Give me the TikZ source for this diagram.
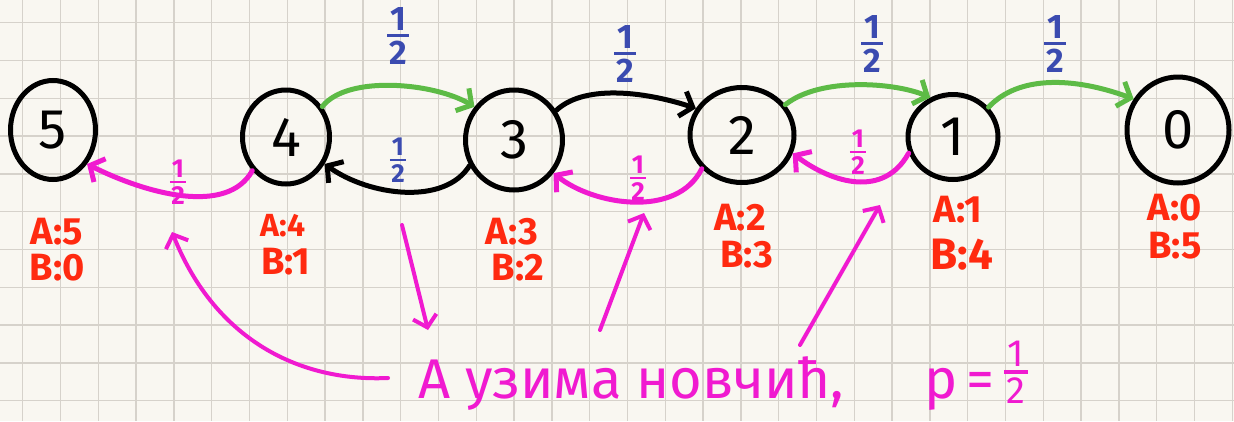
\documentclass[tikz,border=0pt]{standalone}
\usepackage{fontspec}
\setmainfont{Fira Sans}
\usetikzlibrary{shapes.geometric,arrows.meta}
\definecolor{bgc}{HTML}{F9F7F1}
\definecolor{gridc}{HTML}{D6D2CB}
\definecolor{greenc}{HTML}{5DBB46}
\definecolor{bluec}{HTML}{3B4BB0}
\definecolor{magc}{HTML}{F01AD0}
\definecolor{redc}{HTML}{FF2A10}
\newcommand{\hf}{\shortstack{1\\[0.02em]\rule{0.62em}{0.1em}\\[0.02em]2}}
\begin{document}
\begin{tikzpicture}[x=1pt,y=-1pt,
  gridline/.style={draw=gridc, line width=1.3pt},
  state/.style={ellipse, draw=black, line width=5pt, inner sep=0pt, font=\fontsize{56}{56}\selectfont},
  edgebase/.style={line width=5pt, line cap=round, -{Straight Barb[length=11pt,width=26pt]}},
  garrow/.style={edgebase, draw=greenc},
  barrow/.style={edgebase, draw=black},
  marrow/.style={edgebase, draw=magc},
  ann/.style={draw=magc, line width=4pt, line cap=round, -{Straight Barb[length=11pt,width=24pt]}},
  ab/.style={text=redc, font=\fontsize{38}{38}\selectfont\bfseries, inner sep=0pt},
  bfr/.style={text=bluec, font=\fontsize{34}{34}\selectfont\bfseries, inner sep=0pt},
  mfr/.style={text=magc, font=\fontsize{26}{26}\selectfont\bfseries, inner sep=0pt}
]
\useasboundingbox (0,0) rectangle (1234,421);
\fill[bgc] (0,0) rectangle (1234,421);
\foreach \i in {0,...,32} \draw[gridline] ({22.7+\i*37.8},0) -- ({22.7+\i*37.8},421);
\foreach \j in {0,...,10} \draw[gridline] (0,{22.7+\j*37.8}) -- (1234,{22.7+\j*37.8});

% states
\node[state, minimum width=85pt, minimum height=99pt]  (n5) at (53,130)  {5};
\node[state, minimum width=87pt, minimum height=94pt]  (n4) at (286,137) {4};
\node[state, minimum width=97pt, minimum height=100pt] (n3) at (514,140) {3};
\node[state, minimum width=104pt, minimum height=95pt] (n2) at (742,135) {2};
\node[state, minimum width=90pt, minimum height=85pt]  (n1) at (953,137) {1};
\node[state, minimum width=102pt, minimum height=106pt](n0) at (1178,130){0};

% score labels
\node[ab] (a5) at (57,232) {A:5};   \node[ab] (b5) at (57,268) {B:0};
\node[ab, font=\fontsize{32}{32}\selectfont\bfseries] (a4) at (283,226) {A:4};
\node[ab] (b4) at (286,262) {B:1};
\node[ab] (a3) at (512,232) {A:3};  \node[ab] (b3) at (518,268) {B:2};
\node[ab] (a2) at (740,218) {A:2};  \node[ab] (b2) at (747,255) {B:3};
\node[ab] (a1) at (958,210) {A:1};  \node[ab, font=\fontsize{44}{44}\selectfont\bfseries] (b1) at (962,255) {B:4};
\node[ab] (a0) at (1175,208) {A:0}; \node[ab] (b0) at (1175,246) {B:5};

% forward arcs (top)
\draw[garrow] (n4.40) .. controls +(25,-32) and +(-40,-24) .. (n3.140);
\draw[barrow] (n3.35) .. controls +(30,-28) and +(-45,-15) .. (n2.150);
\draw[garrow] (n2.35) .. controls +(35,-28) and +(-35,-15) .. (n1.120);
\draw[garrow] (n1.40) .. controls +(30,-32) and +(-60,-22) .. (n0.145);
\node[bfr] (f43) at (398,36) {\hf};
\node[bfr] (f32) at (625,54) {\hf};
\node[bfr] (f21) at (872,44) {\hf};
\node[bfr] (f10) at (1055,44) {\hf};

% backward arcs (bottom)
\draw[barrow] (n3.210) .. controls +(-25,40) and +(45,32) .. (n4.325);
\node[bfr, font=\fontsize{26}{26}\selectfont\bfseries] (f34) at (398,160) {\hf};
\draw[marrow] (n4.225) .. controls +(-25,45) and +(60,30) .. (n5.315);
\draw[marrow] (n2.220) .. controls +(-25,50) and +(40,32) .. (n3.320);
\draw[marrow] (n1.200) .. controls +(-25,45) and +(40,30) .. (n2.340);
\node[mfr] (f45) at (178,182) {\hf};
\node[mfr] (f23) at (638,178) {\hf};
\node[mfr] (f12) at (858,152) {\hf};

% annotation
\node[text=magc, font=\fontsize{56}{56}\selectfont, inner sep=0pt, anchor=base west] (t) at (418,398)
  {А узима новчић,\hspace{80pt}p\,=\,\raisebox{-0.1em}{\fontsize{38}{38}\selectfont\hf}};
\coordinate (s1) at (388,378); \coordinate (h1) at (172,232);
\coordinate (s2) at (402,225); \coordinate (h2) at (428,330);
\coordinate (s3) at (600,330); \coordinate (h3) at (644,213);
\coordinate (s4) at (800,345); \coordinate (h4) at (880,205);
\draw[ann] (s1) .. controls (300,382) and (215,340) .. (h1);
\draw[ann] (s2) -- (h2);
\draw[ann] (s3) -- (h3);
\draw[ann] (s4) -- (h4);
\end{tikzpicture}
\end{document}
